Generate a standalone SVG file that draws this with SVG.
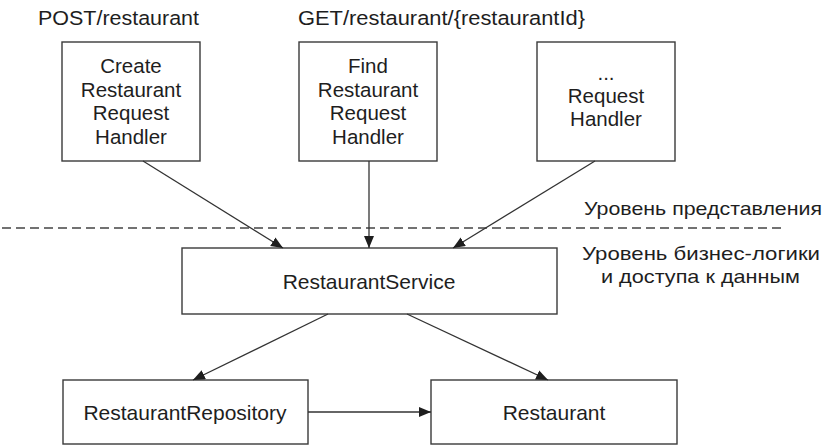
<svg xmlns="http://www.w3.org/2000/svg" width="824" height="445" viewBox="0 0 824 445">
<style>
  .box { fill: #ffffff; stroke: #3a3a3a; stroke-width: 1.4; }
  .t { font-family: "Liberation Sans", Arial, sans-serif; font-size: 20.5px; fill: #1e1e1e; text-anchor: middle; }
  .lbl { font-family: "Liberation Sans", Arial, sans-serif; font-size: 20.5px; fill: #1e1e1e; }
  .ru { font-family: "Liberation Sans", Arial, sans-serif; font-size: 19px; fill: #1e1e1e; }
  .edge { fill: none; stroke: #333333; stroke-width: 1.3; marker-end: url(#arr); }
  .sep { fill: none; stroke: #444444; stroke-width: 1.3; stroke-dasharray: 9 5; }
</style>
<defs>
  <marker id="arr" markerUnits="userSpaceOnUse" markerWidth="14" markerHeight="12" refX="12" refY="5" orient="auto">
    <path d="M0,0 L12,5 L0,10 Z" fill="#1e1e1e"/>
  </marker>
</defs>
<rect width="824" height="445" fill="#ffffff"/>

<text class="lbl" x="38" y="25" textLength="161" lengthAdjust="spacingAndGlyphs">POST/restaurant</text>
<text class="lbl" x="298" y="25" textLength="287" lengthAdjust="spacingAndGlyphs">GET/restaurant/{restaurantId}</text>

<g id="create-handler">
  <rect class="box" x="62" y="42" width="138" height="119"/>
  <text class="t" x="131" y="73">Create</text>
  <text class="t" x="131" y="97">Restaurant</text>
  <text class="t" x="131" y="120">Request</text>
  <text class="t" x="131" y="144">Handler</text>
</g>
<g id="find-handler">
  <rect class="box" x="299" y="42" width="138" height="119"/>
  <text class="t" x="368" y="73">Find</text>
  <text class="t" x="368" y="97">Restaurant</text>
  <text class="t" x="368" y="120">Request</text>
  <text class="t" x="368" y="144">Handler</text>
</g>
<g id="other-handler">
  <rect class="box" x="537" y="42" width="138" height="119"/>
  <text class="t" x="606" y="80">...</text>
  <text class="t" x="606" y="103">Request</text>
  <text class="t" x="606" y="126">Handler</text>
</g>

<g id="layers">
  <line class="sep" x1="2" y1="228" x2="783" y2="228"/>
  <text class="ru" x="584" y="215" textLength="238" lengthAdjust="spacingAndGlyphs">Уровень представления</text>
  <text class="ru" x="582" y="260" textLength="238" lengthAdjust="spacingAndGlyphs">Уровень бизнес-логики</text>
  <text class="ru" x="601" y="283" textLength="199" lengthAdjust="spacingAndGlyphs">и доступа  к данным</text>
</g>

<g id="restaurant-service">
  <rect class="box" x="182" y="248" width="375" height="66"/>
  <text class="t" x="369" y="289" style="font-size:21px">RestaurantService</text>
</g>
<g id="restaurant-repository">
  <rect class="box" x="63" y="380" width="245" height="64"/>
  <text class="t" x="185" y="420" style="font-size:21px">RestaurantRepository</text>
</g>
<g id="restaurant">
  <rect class="box" x="431" y="380" width="246" height="64"/>
  <text class="t" x="554" y="420" style="font-size:21px">Restaurant</text>
</g>

<g id="connectors">
  <line class="edge" x1="143" y1="161" x2="283" y2="248"/>
  <line class="edge" x1="369" y1="161" x2="369" y2="248"/>
  <line class="edge" x1="595" y1="161" x2="453" y2="248"/>
  <line class="edge" x1="328" y1="314" x2="193" y2="380"/>
  <line class="edge" x1="407" y1="314" x2="548" y2="380"/>
  <line class="edge" x1="308" y1="412" x2="431" y2="412"/>
</g>
</svg>
